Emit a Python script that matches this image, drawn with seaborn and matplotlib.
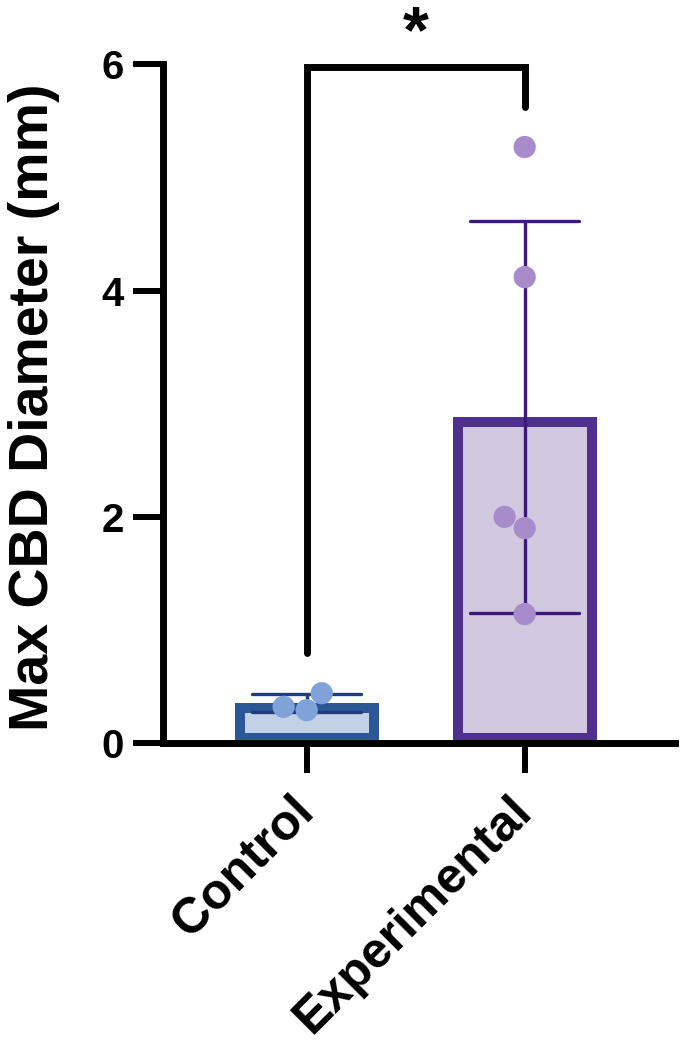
import pandas as pd
import matplotlib.pyplot as plt
import seaborn as sns
import numpy as np

# --- data ---
groups = ["Control", "Experimental"]
control_vals = [0.29, 0.44, 0.32]
experimental_vals = [5.27, 4.12, 2.00, 1.90, 1.14]

fill_colors = ["#bcd0ec", "#d2c4e3"]
edge_colors = ["#2b5797", "#50308e"]
point_colors = ["#7fa3d8", "#a78bcb"]
err_colors = ["#1f3d7a", "#3c1a7c"]

# significance bracket (y values)
bracket_left, bracket_top, bracket_right = 0.80, 5.98, 5.62
star_y = 6.11

df = pd.DataFrame({
    "group": [groups[0]] * len(control_vals) + [groups[1]] * len(experimental_vals),
    "value": control_vals + experimental_vals,
})

sns.set_style("ticks")
plt.rcParams["font.family"] = ["Liberation Sans", "DejaVu Sans"]
plt.rcParams["font.weight"] = "bold"
for key in ["text.color", "axes.labelcolor", "xtick.color", "ytick.color", "axes.edgecolor"]:
    plt.rcParams[key] = "black"

fig = plt.figure(figsize=(6.84, 10.5), dpi=100)
ax = fig.add_axes([0.238, 0.2924, 0.749, 0.6462])

sns.barplot(data=df, x="group", y="value", hue="group", palette=fill_colors,
            errorbar="sd", capsize=0.5, width=0.66, linewidth=14.4,
            err_kws={"linewidth": 2.4}, legend=False, ax=ax)

# draw the thick border inside the bar (clip each bar to itself)
for patch in ax.patches:
    xc = patch.get_x() + patch.get_width() / 2
    patch.set_edgecolor(edge_colors[int(round(xc))])
    patch.set_clip_path(patch)

for line in ax.lines:
    xc = np.nanmean(line.get_xdata())
    line.set_color(err_colors[int(round(xc))])
    line.set_zorder(3)

sns.swarmplot(data=df, x="group", y="value", hue="group", palette=point_colors,
              size=16, legend=False, ax=ax, zorder=4)

# bracket + star
ax.plot([0, 0, 1, 1], [bracket_left, bracket_top, bracket_top, bracket_right],
        color="black", lw=5, clip_on=False, solid_joinstyle="miter", zorder=5)
ax.text(0.5, star_y, "*", ha="center", va="baseline", fontsize=48,
        fontweight="bold", clip_on=False)

ax.set_xlim(-0.66, 1.69)
ax.set_ylim(0, 6)
ax.set_yticks([0, 2, 4, 6])
ax.set_xlabel("")
ax.set_ylabel("Max CBD Diameter (mm)", fontsize=40, fontweight="bold")
ax.yaxis.set_label_coords(-0.2, 0.495)

sns.despine(ax=ax)
for side in ["left", "bottom"]:
    ax.spines[side].set_linewidth(5)
    ax.spines[side].set_zorder(6)

ax.tick_params(axis="y", length=21.6, width=4.3, pad=6.5, labelsize=29)
ax.tick_params(axis="x", length=21.6, width=4.3, pad=22, labelsize=36)
for lab in ax.get_xticklabels():
    lab.set_rotation(45)
    lab.set_ha("right")
    lab.set_va("center")
    lab.set_rotation_mode("anchor")
    lab.set_fontweight("bold")
for lab in ax.get_yticklabels():
    lab.set_fontweight("bold")

fig.savefig("out.png", dpi=100)
